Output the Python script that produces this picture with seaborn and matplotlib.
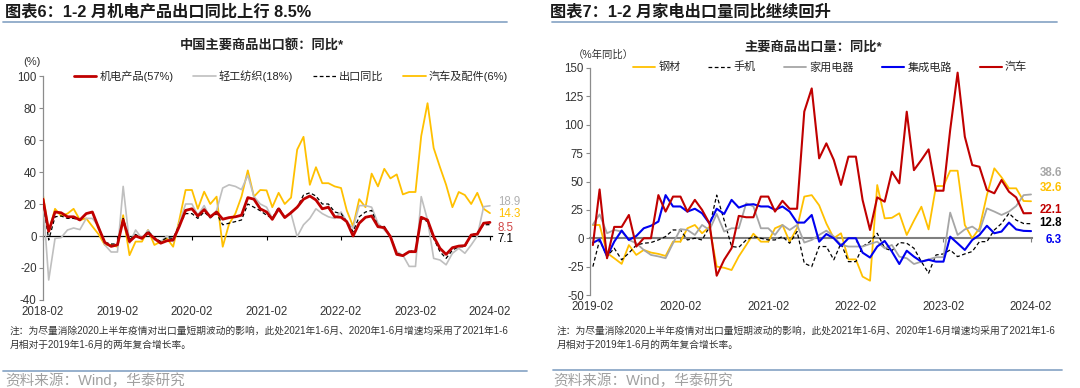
import pandas as pd
import matplotlib.pyplot as plt
import matplotlib.dates as mdates
import matplotlib.ticker as mticker
from matplotlib.lines import Line2D
import seaborn as sns

# ---------------- data ----------------
left_dates = pd.date_range('2018-02-01', '2024-02-01', freq='MS')
right_dates = pd.date_range('2019-02-01', '2024-02-01', freq='MS')

# 图表6: 中国主要商品出口额同比 (%)
jidian = [23, 3, 15, 14.5, 12, 12, 10, 14, 15, 5,
          -4, -6.5, -5.5, 10, -3.5, 0, -1.5, 2, -1.5, -4.5,
          -3, -2.5, 6, 16, 17, 12.5, 16.5, 12, 15, 10.5,
          11.5, 12, 13, 24, 23, 17, 15, 10.4, 17, 11.5,
          14.6, 18, 23, 25, 22.5, 17, 18, 12, 11.7, 9,
          0, 8, 11.7, 12.5, 5.8, 5.2, -0.4, -11.5, -12.3, -9.8,
          -9.8, 11.7, 10, -0.4, -7.7, -11.5, -7.3, -6.3, -6, 0.6,
          1.2, 8, 8.5]
qinggong = [22, -27.5, -1.5, -1, 3.75, 5, 4, 11, 11, 6,
            -5.6, -10, -10, 31, -4.6, 3.75, -1.5, 3.75, -2.5, -3.5,
            0, -3.5, 8, 20, 20, 13, 19, 11, 16, 30,
            32, 31, 29, 38, 24.6, 20, 18, 11, 17, 12,
            14, -0.4, 7, 11, 17, 14, 12, 11, 15, 9,
            5, 19, 19, 18, 8, 3.75, 0, -9.8, -12, -19,
            -19, 24.6, 10, -14, -15, -18, -10.8, -7.7, -10.8, -5.6,
            0, 18.3, 18.9]
chukou = [22, -2.5, 12, 12.5, 11, 11, 10, 14, 15, 5,
          -4, -5, -5, 11, -2.5, 1, -1.5, 3, -1, -3.5,
          -1, -1.5, 7, 14, 14, 11, 15, 11.5, 14, 7,
          8, 9, 10, 20, 18, 15.8, 13, 11, 18, 11.5,
          15, 18, 25.6, 27, 25, 20, 20, 15, 14, 9,
          2.7, 12, 15, 16, 6, 6, -0.3, -10.8, -12, -9.8,
          -8.8, 11, 9, -1.5, -9.8, -14, -8.8, -6.7, -6.7, 0.6,
          2, 7, 7.1]
qiche_pj = [25.6, 2.7, 17, 12.5, 14, 17, 10, 11, 6, 1,
            -5.6, -5.6, -6.7, 13, -12, -3.5, -3.5, 3.75, -5.6, -3.5,
            -1.5, -6.7, 10, 28.75, 28.75, 17, 27.7, 20, 24.6, -6.7,
            7.5, 14, 24.6, 41, 24.6, 28.75, 28.5, 18, 27, 20,
            24, 54, 62, 32, 43, 33, 33, 31, 30, 16,
            6, 23, 18, 39, 31, 42, 36, 38.5, 26, 27.5,
            27.5, 62.5, 83, 55, 43, 32, 18, 27.5, 25.6, 20,
            27, 17, 14.3]

# 图表7: 主要商品出口量同比 (%)
gangcai = [11.7, 11.7, -13, -17.6, -22.6, -6, -14.7, -10.3, -12.6, -13.8,
           -15.6, -3, -3, 8.8, 11.7, 4.4, 10, -25, -26, -28,
           -16, -6, 4, -3, -3, 8.8, 11.7, -3, 9, 36.7,
           38, 29, 13, 0, 4.4, -18.6, -18.6, -33.8, -37.4, 46.9,
           17.5, 18, 22, 2.9, 15.5, 27.8, 7.8, 46, 46, 59.5,
           59.5, 11.7, 0, 8.8, 38, 61.6, 53.7, 44, 44, 32.8,
           32.6]
shouji = [-25, -1.5, -16, -8.8, -19, -13, -6, -4.4, -3.8, -1.5,
          1.5, 7.3, 7.3, -1.5, 0, -1.5, 10, 38, 16, -7.3,
          -8, -1.5, 1.5, 0, -1.5, -1.5, 1.5, -4.4, 5.9, -22,
          -25, -7.3, -7.3, -19, -4.4, -20.6, -20.6, -7.3, -3, 4.4,
          -8.8, -11, -3.8, -4.4, -8.8, -20.6, -30.8, -14.7, -13.8, -10.3,
          -16.2, -13.8, -11.7, -3, -3, 7.3, 13, 22, 16, 13,
          12.8]
jiadian = [12, 21, 4.4, 7.3, 5.9, -1.5, -4.4, -10.3, -14.7, -16,
           -17.6, -4.4, 8, 7.3, 2.9, 11.7, 7.3, 21.4, 5.9, 8.8,
           8.8, 30.8, 28, 8.8, 8.8, 2.9, 11.7, 7.3, 11.7, -3.8,
           -1.5, 2.9, 6.7, 1.5, -5.9, -7.3, -7.3, -7.3, -5, -3,
           -8.8, -5.9, -16.2, -17.6, -22.7, -20.6, -18.6, -16.7, -16.7, 22.6,
           2.9, 7.8, 10.3, 5.9, 26.3, 23.5, 20.5, 23.5, 28.4, 38,
           38.6]
jicheng = [-4, -1, -16, -3, 6.8, -1.5, 2, 8.8, 11, 14.7,
           38, 28, 28, 23.5, 26, 22, 13, 26, 21.4, 33.8,
           27, 29.4, 30, 28, 28, 25, 28, 23.5, 13.8, 13.8,
           20.5, -3, 3.7, 0, -6.8, 0, 0, -12.7, -17, -7.3,
           -2.4, -11.7, -22.7, -11, -16.2, -20.6, -19, -20.6, -20.6, 1.4,
           -4.5, -10.3, -1.5, 2.9, 11, 4.4, 5.9, 13.8, 7.8, 6.5,
           6.3]
qiche = [-6, 43, -17.6, 10, 10, 20.5, -7.3, 0, 0, 38,
         23.5, 36.7, 36.7, 23.5, 33.8, 25, 13, -33, -19, -8.8,
         19.7, 18.5, 18.5, 36.7, 36.7, 23.5, 33, 26, 26, 111.6,
         132, 70.4, 83.6, 69, 47, 71.9, 71.9, 33.7, 7.3, 36,
         32.2, 58.6, 48.4, 111.5, 60, 69, 78.3, 41.9, 41.9, 95.4,
         145.9, 89.5, 64.5, 63, 42.5, 39.6, 51.3, 41, 36, 22,
         22.1]

left_ticks = pd.date_range('2018-02-01', '2024-02-01', freq='12MS')
right_ticks = pd.date_range('2019-02-01', '2024-02-01', freq='12MS')

note = ('注：为尽量消除2020上半年疫情对出口量短期波动的影响，此处2021年1-6月、2020年1-6月增速均采用了2021年1-6\n'
        '月相对于2019年1-6月的两年复合增长率。')

# ---------------- style ----------------
sns.set_theme(style='white')
plt.rcParams['font.family'] = ['Liberation Sans', 'Noto Sans CJK SC']
plt.rcParams['axes.unicode_minus'] = False

RED, GOLD, BLUE = '#C00000', '#FFC000', '#0000F0'
SEP = '#8EA9C8'
W, H = 1080, 388


def fx(x):
    return x / W


def fy(y):
    return 1 - y / H


fig = plt.figure(figsize=(10.8, 3.88), dpi=100)
fig.patch.set_facecolor('white')


def setup_axes(ax, dates, ticks, ylim, ystep, zero_frac, zero_color, zero_lw, pad_days):
    ax.set_xlim(dates[0] - pd.Timedelta(days=pad_days[0]), dates[-1] + pd.Timedelta(days=pad_days[1]))
    ax.set_ylim(*ylim)
    ax.set_yticks(range(ylim[0], ylim[1] + 1, ystep))
    ax.set_xticks(ticks)
    ax.xaxis.set_major_formatter(mdates.DateFormatter('%Y-%m'))
    for s in ['top', 'right', 'bottom']:
        ax.spines[s].set_visible(False)
    ax.spines['left'].set_color('#8C8C8C')
    ax.spines['left'].set_linewidth(0.9)
    ax.tick_params(axis='x', length=0, pad=4, labelsize=8.3, labelcolor='#333333')
    ax.tick_params(axis='y', length=3, width=0.8, color='#8C8C8C', pad=1.5,
                   labelsize=8.3, labelcolor='#333333', left=True)
    ax.set_xlabel('')
    ax.set_ylabel('')
    ax.grid(False)
    ax.set_facecolor('none')
    # zero line with month tick marks
    sec = ax.secondary_xaxis(zero_frac)
    sec.set_xticks(mdates.date2num(ticks))
    sec.xaxis.set_major_formatter(mticker.NullFormatter())
    sec.tick_params(axis='x', length=3, width=0.8, color=zero_color, direction='out')
    for s in sec.spines.values():
        s.set_color(zero_color)
        s.set_linewidth(zero_lw)


def draw(ax, dates, values, color, lw, ls='-', z=2):
    sns.lineplot(x=dates, y=values, ax=ax, color=color, linewidth=lw, linestyle=ls, zorder=z)


# ================= left chart =================
axL = fig.add_axes([fx(43), fy(300), fx(492 - 43), (300 - 76) / H])
left_series = [
    ('汽车及配件(6%)', qiche_pj, GOLD, 1.3, '-', 2, '#FFC000', 13.75),
    ('轻工纺织(18%)', qinggong, '#BFBFBF', 1.2, '-', 3, '#B0B0B0', 21.25),
    ('出口同比', chukou, '#000000', 0.9, (0, (3, 2)), 4, '#000000', -1.9),
    ('机电产品(57%)', jidian, RED, 2.0, '-', 5, '#D04545', 5.0),
]
for name, vals, col, lw, ls, z, lc, ly in left_series:
    draw(axL, left_dates, vals, col, lw, ls, z)
    axL.text(1.013, ly, f'{vals[-1]:.1f}', color=lc, fontsize=8.3,
             transform=axL.get_yaxis_transform(), ha='left', va='center')
setup_axes(axL, left_dates, left_ticks, (-40, 100), 20, 40 / 140, '#000000', 0.9, (0, 10))

order = ['机电产品(57%)', '轻工纺织(18%)', '出口同比', '汽车及配件(6%)']
sty = {s[0]: s for s in left_series}
handles = [Line2D([], [], color=sty[n][2], lw=sty[n][3], ls=sty[n][4]) for n in order]
axL.legend(handles, order, ncol=4, loc='center', bbox_to_anchor=(fx(291), fy(76)),
           bbox_transform=fig.transFigure, frameon=False, fontsize=8,
           handlelength=2.0, handletextpad=0.3, columnspacing=1.8)

fig.text(fx(32), fy(62), '(%)', fontsize=8, color='#333333', ha='center', va='center')
fig.text(fx(262), fy(46), '中国主要商品出口额：同比*', fontsize=9.5, fontweight='bold',
         color='#222222', ha='center', va='center')
fig.text(fx(5), fy(12), '图表6：1-2 月机电产品出口同比上行 8.5%', fontsize=11.7,
         fontweight='bold', color='#1a1a1a', ha='left', va='center')
fig.add_artist(Line2D([fx(3), fx(507)], [fy(22), fy(22)], transform=fig.transFigure, color=SEP, lw=1.3))
fig.text(fx(10), fy(338), note, fontsize=7, color='#333333', ha='left', va='center', linespacing=1.5)
fig.add_artist(Line2D([fx(3), fx(527)], [fy(371), fy(371)], transform=fig.transFigure, color=SEP, lw=1.3))
fig.text(fx(5), fy(381), '资料来源：Wind，华泰研究', fontsize=10.5, color='#A0A0A0', ha='left', va='center')

# ================= right chart =================
axR = fig.add_axes([fx(590), fy(295), fx(1032 - 590), (295 - 68) / H])
right_series = [
    ('钢材', gangcai, GOLD, 1.3, '-', 2, '#FFC000', 44.3),
    ('手机', shouji, '#000000', 0.9, (0, (3, 2)), 3, '#000000', 13.4),
    ('家用电器', jiadian, '#A6A6A6', 1.3, '-', 3, '#A6A6A6', 57.5),
    ('集成电路', jicheng, BLUE, 1.5, '-', 4, BLUE, -1.5),
    ('汽车', qiche, RED, 1.5, '-', 5, RED, 24.9),
]
for name, vals, col, lw, ls, z, lc, ly in right_series:
    draw(axR, right_dates, vals, col, lw, ls, z)
    axR.text(1.068, ly, f'{vals[-1]:.1f}', color=lc, fontsize=8.3, fontweight='bold',
             transform=axR.get_yaxis_transform(), ha='right', va='center')
setup_axes(axR, right_dates, right_ticks, (-50, 150), 25, 50 / 200, '#7F7F7F', 1.5, (12, 4))

handles = [Line2D([], [], color=s[2], lw=s[3], ls=s[4]) for s in right_series]
axR.legend(handles, [s[0] for s in right_series], ncol=5, loc='center',
           bbox_to_anchor=(fx(830), fy(67)), bbox_transform=fig.transFigure, frameon=False,
           fontsize=8, handlelength=2.0, handletextpad=0.3, columnspacing=2.5)

fig.text(fx(603), fy(55), '（%年同比）', fontsize=7.5, color='#333333', ha='center', va='center')
fig.text(fx(813), fy(47), '主要商品出口量：同比*', fontsize=9.5, fontweight='bold',
         color='#222222', ha='center', va='center')
fig.text(fx(550), fy(12), '图表7：1-2 月家电出口量同比继续回升', fontsize=11.7,
         fontweight='bold', color='#1a1a1a', ha='left', va='center')
fig.add_artist(Line2D([fx(552), fx(1057)], [fy(22), fy(22)], transform=fig.transFigure, color=SEP, lw=1.3))
fig.text(fx(557), fy(338), note, fontsize=7, color='#333333', ha='left', va='center', linespacing=1.5)
fig.add_artist(Line2D([fx(553), fx(1062)], [fy(370), fy(370)], transform=fig.transFigure, color=SEP, lw=1.3))
fig.text(fx(553), fy(381), '资料来源：Wind，华泰研究', fontsize=10.5, color='#A0A0A0', ha='left', va='center')

fig.savefig('out.png', dpi=100, facecolor='white')
